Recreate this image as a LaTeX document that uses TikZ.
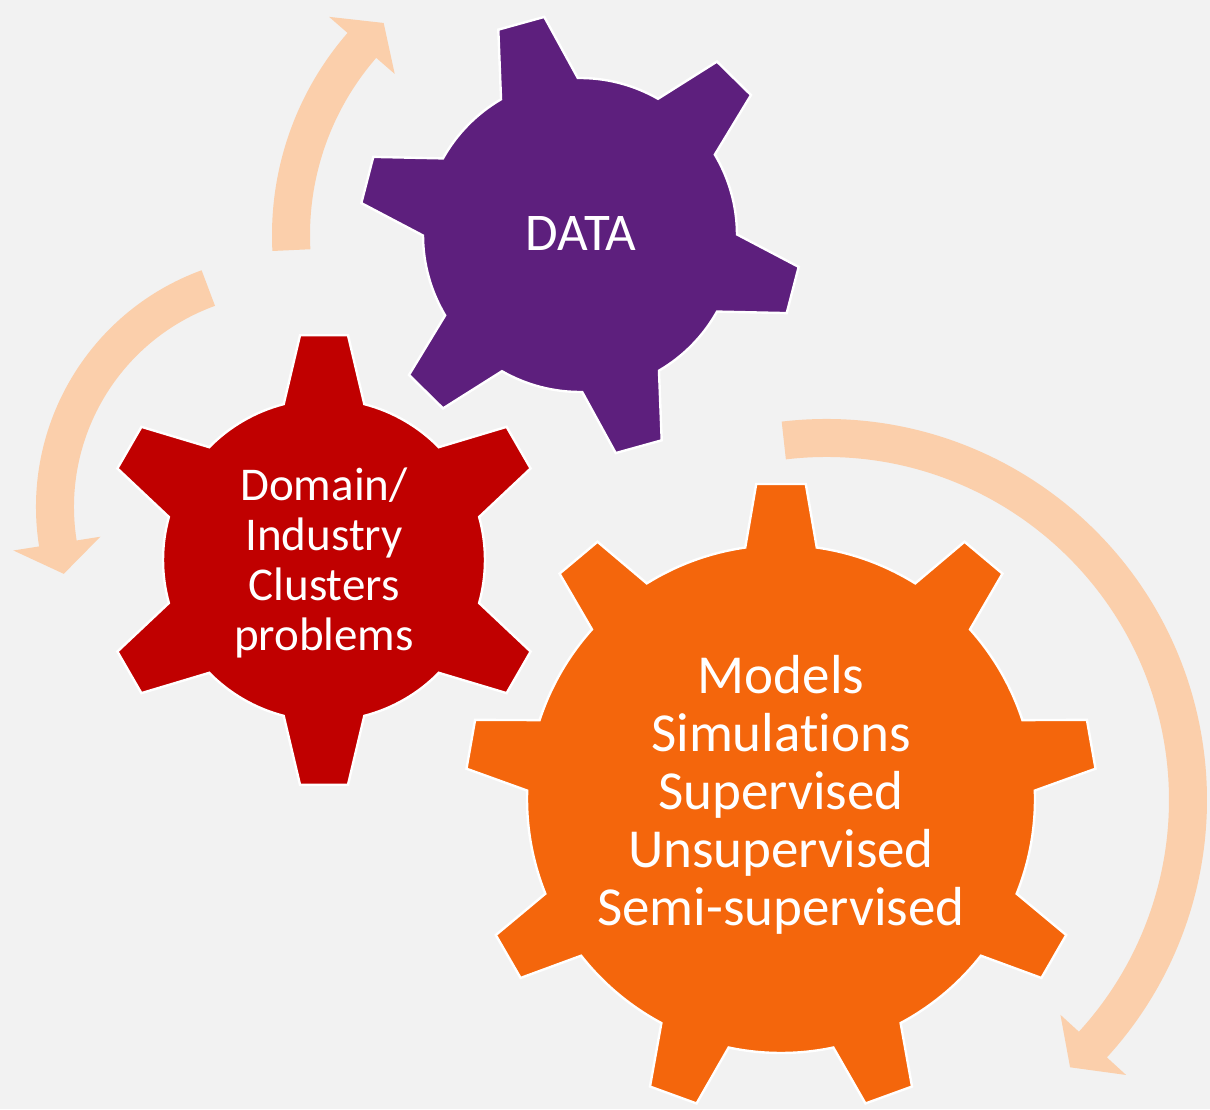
\documentclass[tikz,border=0pt]{standalone}
\usepackage{fontspec}
\setmainfont{Carlito}[Ligatures={NoCommon,NoRequired,NoContextual}]
\definecolor{bg}{HTML}{F2F2F2}
\definecolor{gpurple}{HTML}{5D1F7D}
\definecolor{gred}{HTML}{C00000}
\definecolor{gorange}{HTML}{F4660C}
\definecolor{garrow}{HTML}{FBCFAB}
\tikzset{
  gearbody/.style={draw=white, line width=2.4pt, line join=miter},
  shaft/.style={draw=garrow, line width=38pt},
  ahead/.style={fill=garrow},
  geartext/.style={text=white, align=center, inner sep=0pt},
}
\newcommand{\gearpath}[7]{%
  \pgfmathsetmacro{\gst}{360/#1}%
  \path[#7] ({#2-#5}:#3pt) \foreach \k in {1,...,#1} {
    -- ({#2+(\k-1)*\gst-#6}:#4pt) -- ({#2+(\k-1)*\gst+#6}:#4pt) -- ({#2+(\k-1)*\gst+#5}:#3pt)
    arc[start angle={#2+(\k-1)*\gst+#5}, end angle={#2+\k*\gst-#5}, radius=#3pt]
  } -- cycle;
}
\begin{document}
\begin{tikzpicture}[x=1pt,y=1pt]
\useasboundingbox (0,0) rectangle (1210,1109);
\fill[bg] (0,0) rectangle (1210,1109);
\coordinate (cData) at (580,874);
\coordinate (cRed) at (324,549);
\coordinate (cOr) at (781,310);
\coordinate (aA) at (580,874);
\coordinate (aB) at (288,602);
\coordinate (aC) at (826,309);

% circular arrows
\begin{scope}[shift={(aA)}]
  \draw[shaft] (183:289pt) arc[start angle=183, end angle=138, radius=289pt];
  \fill[ahead] (139:245.5pt) -- (132.8:289pt) -- (139:332.5pt) -- cycle;
\end{scope}
\begin{scope}[shift={(aB)}]
  \draw[shaft] (110:233pt) arc[start angle=110, end angle=190, radius=233pt];
  \fill[ahead] (189:190pt) -- (196.6:234pt) -- (189:278pt) -- cycle;
\end{scope}
\begin{scope}[shift={(aC)}]
  \draw[shaft] (96.7:362pt) arc[start angle=96.7, end angle=-43.5, radius=362pt];
  \fill[ahead] (-42.5:318pt) -- (-47.6:362pt) -- (-42.5:407pt) -- cycle;
\end{scope}

% gears
\begin{scope}[shift={(cData)}]
  \gearpath{6}{45.5}{157}{221}{14.7}{6.2}{gearbody, fill=gpurple}
\end{scope}
\begin{scope}[shift={(cRed)}]
  \gearpath{6}{30}{161}{226}{14.5}{6.1}{gearbody, fill=gred}
\end{scope}
\begin{scope}[shift={(cOr)}]
  \gearpath{9}{90}{254}{316}{8.1}{4.5}{gearbody, fill=gorange}
\end{scope}

% texts
\node[geartext, font=\fontsize{53}{60}\selectfont, anchor=base] (tData) at (581,858) {DATA};
\node[geartext, font=\fontsize{47}{50}\selectfont] (tRed) at (324,546) {Domain/\\Industry\\Clusters\\problems};
\node[geartext, font=\fontsize{55}{58}\selectfont] (tOr) at (781,314) {Models\\Simulations\\Supervised\\Unsupervised\\Semi-supervised};
\end{tikzpicture}
\end{document}
